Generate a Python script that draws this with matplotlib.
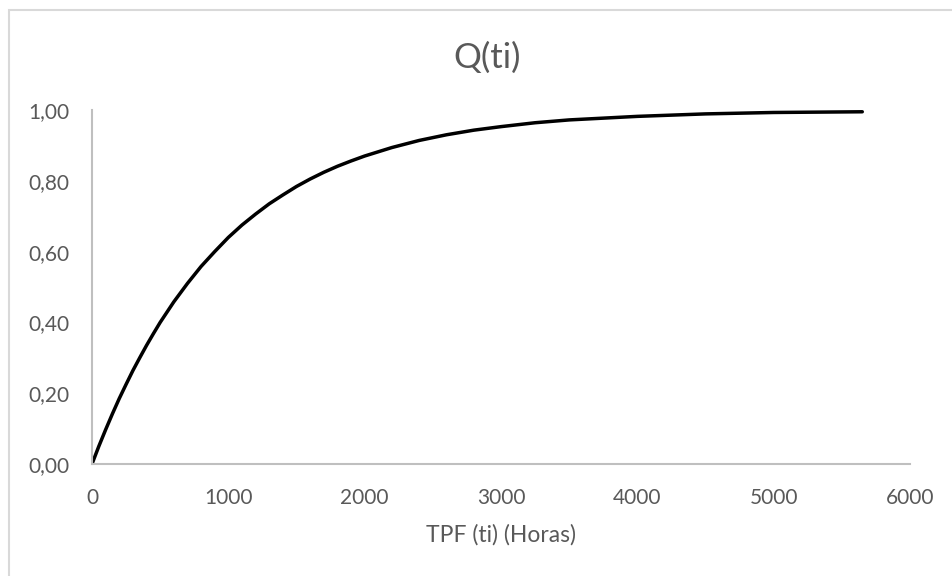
import matplotlib
matplotlib.use("Agg")
import matplotlib.pyplot as plt
from matplotlib.patches import Rectangle
from matplotlib.ticker import FuncFormatter

plt.rcParams["font.family"] = ["Lato", "DejaVu Sans"]

# Failure-time points (hours) and cumulative probability Q(ti)
tpf_hours = [0, 50, 100, 150, 200, 250, 300, 350, 400, 450, 500,
             600, 700, 800, 900, 1000, 1100, 1200, 1300, 1400, 1500,
             1600, 1700, 1800, 1900, 2000, 2200, 2400, 2600, 2800, 3000,
             3250, 3500, 3750, 4000, 4500, 5000, 5650]
q_ti = [0.0, 0.05, 0.097, 0.142, 0.185, 0.225, 0.264, 0.30, 0.335, 0.368, 0.40,
        0.458, 0.51, 0.558, 0.60, 0.64, 0.675, 0.706, 0.735, 0.76, 0.784,
        0.805, 0.824, 0.841, 0.856, 0.87, 0.894, 0.914, 0.930, 0.943, 0.953,
        0.964, 0.972, 0.977, 0.982, 0.989, 0.993, 0.995]

x_ticks = [0, 1000, 2000, 3000, 4000, 5000, 6000]
y_ticks = [0.0, 0.2, 0.4, 0.6, 0.8, 1.0]

W, H = 952, 576
fig = plt.figure(figsize=(W / 100, H / 100), dpi=100)

# light chart-area frame
fig.patches.append(Rectangle((9 / W, -0.1), 1.2, 1 - 10 / H + 0.1,
                             transform=fig.transFigure, fill=False,
                             edgecolor="#D9D9D9", linewidth=1.5))

ax = fig.add_axes([92 / W, (H - 464) / H, (910 - 92) / W, (464 - 110) / H])
ax.plot(tpf_hours, q_ti, color="black", linewidth=2.5,
        solid_capstyle="round", solid_joinstyle="round")

ax.set_xlim(0, 6000)
ax.set_ylim(0, 1.0)
ax.set_xticks(x_ticks)
ax.set_yticks(y_ticks)
ax.yaxis.set_major_formatter(FuncFormatter(lambda v, _: f"{v:.2f}".replace(".", ",")))
ax.tick_params(length=0, labelsize=15, labelcolor="#595959")
ax.tick_params(axis="x", pad=17)
ax.tick_params(axis="y", pad=16)

for side in ("top", "right"):
    ax.spines[side].set_visible(False)
for side in ("left", "bottom"):
    ax.spines[side].set_color("#BFBFBF")
    ax.spines[side].set_linewidth(1.5)

ax.set_xlabel("TPF (ti) (Horas)", fontsize=16.5, color="#595959", labelpad=12)
fig.text(487 / W, 1 - 58 / H, "Q(ti)", fontsize=25, color="#595959",
         ha="center", va="center")

fig.savefig("out.png", dpi=100)
